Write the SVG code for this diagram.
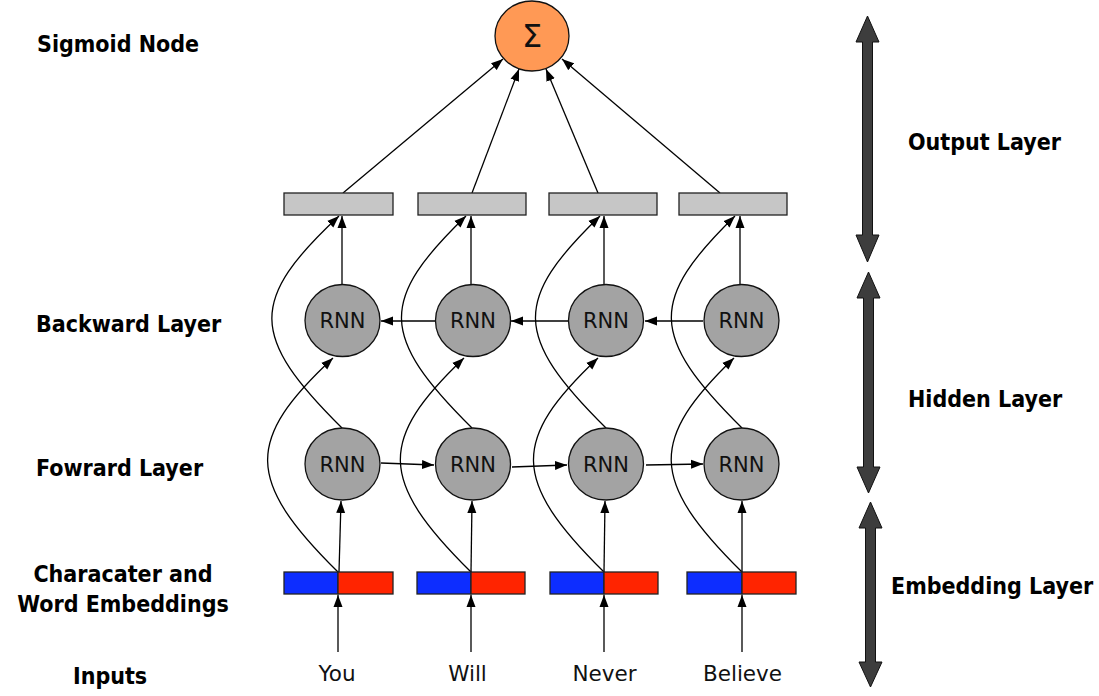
<svg xmlns="http://www.w3.org/2000/svg" width="1099" height="696" viewBox="0 0 1099 696">
<style>
.lbl{font-family:"DejaVu Sans Condensed","DejaVu Sans",sans-serif;font-stretch:condensed;font-weight:bold;font-size:23px;fill:#000}
.rnn{fill:#a3a3a3;stroke:#111;stroke-width:1.3}
.rnnt{font-family:"DejaVu Sans",sans-serif;font-size:21px;fill:#111;text-anchor:middle}
.word{font-family:"DejaVu Sans",sans-serif;font-size:21.5px;fill:#111;text-anchor:middle}
.bar{fill:#c6c6c6;stroke:#222;stroke-width:1.3}
.blue{fill:#0d2dff;stroke:#222;stroke-width:1.3}
.red{fill:#ff2400;stroke:#222;stroke-width:1.3}
.a{fill:none;stroke:#000;stroke-width:1.3;marker-end:url(#ah)}
.big{fill:#3d3d3d;stroke:#111;stroke-width:1}
</style>
<defs>
<marker id="ah" markerUnits="userSpaceOnUse" markerWidth="12" markerHeight="10" refX="12" refY="5" orient="auto">
<path d="M0,0.5 L12,5 L0,9.5 z" fill="#000"/>
</marker>
</defs>
<rect width="1099" height="696" fill="#fff"/>

<g id="labels">
<text class="lbl" x="37" y="52">Sigmoid Node</text>
<text class="lbl" x="36" y="332">Backward Layer</text>
<text class="lbl" x="36" y="476">Fowrard Layer</text>
<text class="lbl" x="123" y="582" text-anchor="middle">Characater and</text>
<text class="lbl" x="123" y="612" text-anchor="middle">Word Embeddings</text>
<text class="lbl" x="73" y="684">Inputs</text>
<text class="lbl" x="908" y="150">Output Layer</text>
<text class="lbl" x="908" y="407">Hidden Layer</text>
<text class="lbl" x="891" y="594">Embedding Layer</text>
</g>

<g id="layer-arrows">
<polygon class="big" points="867.5,16 879,42 872.5,42 872.5,235 879,235 867.5,262 856,235 862.5,235 862.5,42 856,42"/>
<polygon class="big" points="868.5,272 880,298 873.5,298 873.5,467 880,467 868.5,493 857,467 863.5,467 863.5,298 857,298"/>
<polygon class="big" points="870.5,502 882,528 875.5,528 875.5,662 882,662 870.5,687 859,662 865.5,662 865.5,528 859,528"/>
</g>

<g id="connectors">
<line class="a" x1="338" y1="652" x2="338" y2="595"/>
<line class="a" x1="471" y1="652" x2="471" y2="595"/>
<line class="a" x1="604" y1="652" x2="604" y2="595"/>
<line class="a" x1="742" y1="652" x2="742" y2="595"/>
<line class="a" x1="339" y1="572" x2="341" y2="501"/>
<line class="a" x1="471" y1="572" x2="472" y2="501"/>
<line class="a" x1="604" y1="572" x2="605" y2="501"/>
<line class="a" x1="742" y1="572" x2="742" y2="501"/>
<path class="a" d="M338,572 C245,480 245,440 333,358"/>
<path class="a" d="M471,572 C378,480 378,440 464,358"/>
<path class="a" d="M604,572 C511,480 511,440 598,358"/>
<path class="a" d="M742,572 C649,480 649,440 734,358"/>
<path class="a" d="M342,428 C249,336 249,300 339,216"/>
<path class="a" d="M472,428 C379,336 379,300 466,216"/>
<path class="a" d="M606,428 C513,336 513,300 600,216"/>
<path class="a" d="M742,428 C649,336 649,300 735,216"/>
<line class="a" x1="381" y1="463" x2="434" y2="465"/>
<line class="a" x1="512" y1="467" x2="567" y2="465"/>
<line class="a" x1="646" y1="465" x2="703" y2="464"/>
<line class="a" x1="435" y1="321" x2="381" y2="321"/>
<line class="a" x1="568" y1="321" x2="511" y2="321"/>
<line class="a" x1="703" y1="321" x2="645" y2="321"/>
<line class="a" x1="342" y1="285" x2="342" y2="216"/>
<line class="a" x1="471" y1="285" x2="471" y2="216"/>
<line class="a" x1="604" y1="285" x2="604" y2="216"/>
<line class="a" x1="740" y1="285" x2="740" y2="216"/>
<line class="a" x1="343" y1="193" x2="503" y2="59"/>
<line class="a" x1="472" y1="193" x2="519" y2="69"/>
<line class="a" x1="598" y1="193" x2="546" y2="69"/>
<line class="a" x1="720" y1="193" x2="562" y2="59"/>
</g>

<g id="sigmoid">
<ellipse cx="532" cy="36" rx="37" ry="35" fill="#ff9955" stroke="#111" stroke-width="1.3"/>
<text x="532" y="47" font-family="DejaVu Sans,sans-serif" font-size="32" text-anchor="middle" fill="#111">Σ</text>
</g>

<g id="out-bars">
<rect class="bar" x="284" y="193" width="109" height="22"/>
<rect class="bar" x="418" y="193" width="108" height="22"/>
<rect class="bar" x="549" y="193" width="108" height="22"/>
<rect class="bar" x="679" y="193" width="108" height="22"/>
</g>

<g id="backward-rnn">
<g id="b1"><ellipse class="rnn" cx="342.5" cy="320.5" rx="37.5" ry="36"/><text class="rnnt" x="342.5" y="328">RNN</text></g>
<g id="b2"><ellipse class="rnn" cx="473" cy="320.5" rx="37.5" ry="36"/><text class="rnnt" x="473" y="328">RNN</text></g>
<g id="b3"><ellipse class="rnn" cx="606" cy="320.5" rx="37.5" ry="36"/><text class="rnnt" x="606" y="328">RNN</text></g>
<g id="b4"><ellipse class="rnn" cx="741.5" cy="320.5" rx="37.5" ry="36"/><text class="rnnt" x="741.5" y="328">RNN</text></g>
</g>

<g id="forward-rnn">
<g id="f1"><ellipse class="rnn" cx="342.5" cy="464" rx="37.5" ry="36"/><text class="rnnt" x="342.5" y="471.5">RNN</text></g>
<g id="f2"><ellipse class="rnn" cx="473" cy="464" rx="37.5" ry="36"/><text class="rnnt" x="473" y="471.5">RNN</text></g>
<g id="f3"><ellipse class="rnn" cx="606" cy="464" rx="37.5" ry="36"/><text class="rnnt" x="606" y="471.5">RNN</text></g>
<g id="f4"><ellipse class="rnn" cx="741.5" cy="464" rx="37.5" ry="36"/><text class="rnnt" x="741.5" y="471.5">RNN</text></g>
</g>

<g id="embeddings">
<g id="e1"><rect class="blue" x="284" y="572" width="54" height="22"/><rect class="red" x="338" y="572" width="55" height="22"/></g>
<g id="e2"><rect class="blue" x="417" y="572" width="54" height="22"/><rect class="red" x="471" y="572" width="54" height="22"/></g>
<g id="e3"><rect class="blue" x="550" y="572" width="54" height="22"/><rect class="red" x="604" y="572" width="54" height="22"/></g>
<g id="e4"><rect class="blue" x="687" y="572" width="55" height="22"/><rect class="red" x="742" y="572" width="54" height="22"/></g>
</g>

<g id="inputs">
<text class="word" x="337" y="681">You</text>
<text class="word" x="467.5" y="681">Will</text>
<text class="word" x="604.5" y="681">Never</text>
<text class="word" x="742.5" y="681">Believe</text>
</g>
</svg>
